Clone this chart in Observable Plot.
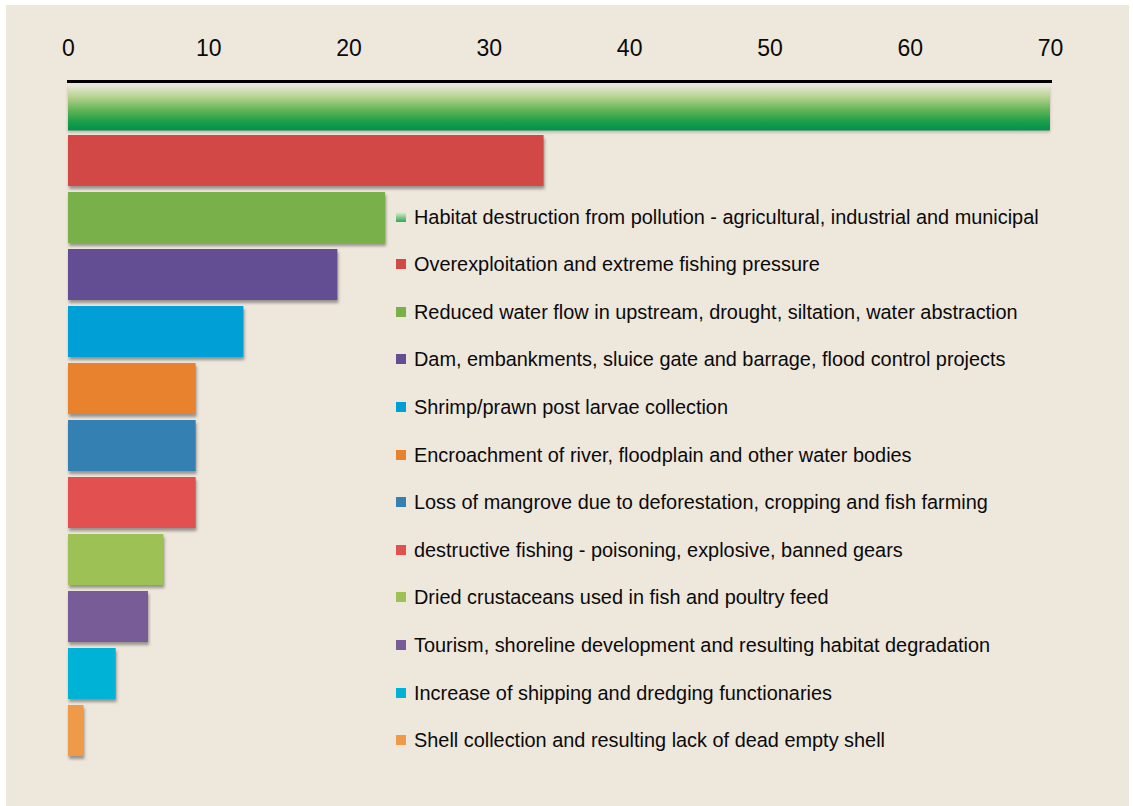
<!DOCTYPE html>
<html>
<head>
<meta charset="utf-8">
<script src="https://cdn.jsdelivr.net/npm/d3@7"></script>
<script src="https://cdn.jsdelivr.net/npm/@observablehq/plot@0.6"></script>
<style>
  html, body { margin: 0; padding: 0; background: #ffffff; }
  #wrap { position: relative; width: 1133px; height: 806px; overflow: hidden; font-family: "Liberation Sans", Arial, Helvetica, sans-serif; }
  #bg { position: absolute; left: 6px; top: 5px; width: 1123px; height: 801px; background: #EEE7DC; }
  #chart { position: absolute; left: 0; top: 0; }
  .lg { position: absolute; left: 396px; height: 22px; display: flex; align-items: center; white-space: nowrap; }
  .lg .sw { width: 10px; height: 10px; margin-right: 8px; flex: none; }
  .lg .tx { font-size: 19.9px; color: #0a0a0a; line-height: 22px; }
</style>
</head>
<body>
<div id="wrap">
  <div id="bg"></div>
  <div id="chart"></div>
  <div id="legend"></div>
</div>
<script>
const causes = [
  "Habitat destruction from pollution - agricultural, industrial and municipal",
  "Overexploitation and extreme fishing pressure",
  "Reduced water flow in upstream, drought, siltation, water abstraction",
  "Dam, embankments, sluice gate and barrage, flood control projects",
  "Shrimp/prawn post larvae collection",
  "Encroachment of river, floodplain and other water bodies",
  "Loss of mangrove due to deforestation, cropping and fish farming",
  "destructive fishing - poisoning, explosive, banned gears",
  "Dried crustaceans used in fish and poultry feed",
  "Tourism, shoreline development and resulting habitat degradation",
  "Increase of shipping and dredging functionaries",
  "Shell collection and resulting lack of dead empty shell"
];
const values = [70, 33.9, 22.6, 19.2, 12.5, 9.1, 9.1, 9.1, 6.8, 5.7, 3.4, 1.1];
const barColors = [
  "url(#habitatGradient)", "#D14846", "#79B04A", "#644E93", "#009FD6", "#E8822F",
  "#3580B2", "#E35050", "#9DC155", "#775C98", "#00B2D5", "#EE9A48"
];
const tickValues = [0, 10, 20, 30, 40, 50, 60, 70];

const data = causes.map((c, i) => ({cause: c, value: values[i], color: barColors[i]}));
const first = data.slice(0, 1);
const rest = data.slice(1);

const plot = Plot.plot({
  width: 1133,
  height: 806,
  marginTop: 81,
  marginLeft: 68,
  marginRight: 83,
  marginBottom: 40,
  style: {background: "transparent", fontFamily: "'Liberation Sans', Arial, Helvetica, sans-serif", fontSize: "23px", color: "#111"},
  x: {domain: [0, 70]},
  y: {domain: causes, range: [75.5, 759], paddingInner: 0.113, paddingOuter: 0, axis: null},
  color: {type: "identity"},
  marks: [
    Plot.barX(rest, {x: "value", y: "cause", fill: "#5e5a55", fillOpacity: 0.6, dx: 1, dy: 3}),
    Plot.barX(first, {x: "value", y: "cause", fill: "#5e5a55", fillOpacity: 0.35, dy: 2, insetTop: 7.5, insetBottom: -1.5}),
    Plot.barX(rest, {x: "value", y: "cause", fill: "color"}),
    Plot.barX(first, {x: "value", y: "cause", fill: "url(#habitatGradient)", insetTop: 7.5, insetBottom: -1.5}),
    Plot.frame({anchor: "top", stroke: "#000", strokeWidth: 3}),
    Plot.axisX({anchor: "top", ticks: tickValues, tickSize: 0, tickPadding: 26, label: null, fill: "#0a0a0a"})
  ]
});

// gradient + blur filter defs
const ns = "http://www.w3.org/2000/svg";
const defs = document.createElementNS(ns, "defs");
defs.innerHTML = `
  <linearGradient id="habitatGradient" x1="0" y1="0" x2="0" y2="1">
    <stop offset="0" stop-color="#e6ead6"/>
    <stop offset="0.25" stop-color="#b7d290"/>
    <stop offset="0.55" stop-color="#62b456"/>
    <stop offset="0.8" stop-color="#1c9e4a"/>
    <stop offset="1" stop-color="#00914a"/>
  </linearGradient>
  <filter id="shadowBlur" x="-10%" y="-30%" width="120%" height="160%">
    <feGaussianBlur stdDeviation="1.6"/>
  </filter>`;
plot.insertBefore(defs, plot.firstChild);
const barGroups = plot.querySelectorAll('g[aria-label="bar"]');
if (barGroups[0]) barGroups[0].setAttribute("filter", "url(#shadowBlur)");
if (barGroups[1]) barGroups[1].setAttribute("filter", "url(#shadowBlur)");
document.getElementById("chart").appendChild(plot);

// legend
const legend = document.getElementById("legend");
causes.forEach((c, i) => {
  const row = document.createElement("div");
  row.className = "lg";
  row.style.top = (216.5 + i * 47.6 - 11) + "px";
  const sw = document.createElement("span");
  sw.className = "sw";
  sw.style.background = i === 0 ? "linear-gradient(#e6eed6, #2fa84f)" : barColors[i];
  const tx = document.createElement("span");
  tx.className = "tx";
  tx.textContent = c;
  row.appendChild(sw);
  row.appendChild(tx);
  legend.appendChild(row);
});
</script>
</body>
</html>
